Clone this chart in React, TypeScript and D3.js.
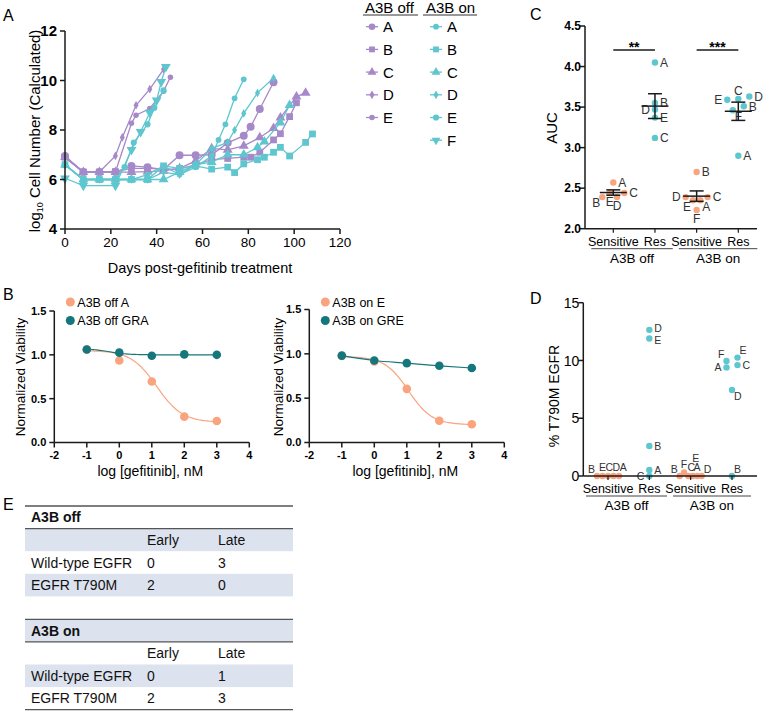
import React from 'react';
import * as d3 from 'd3';

const FONT = '"Liberation Sans", Arial, Helvetica, sans-serif';
const PURPLE = '#a689c9';
const CYAN = '#5ec6cf';
const ORANGE = '#f9a47f';
const TEAL = '#15777c';
const INK = '#1a1a1a';

// ---------- Panel A : growth curves [day, log10 cells] ----------
const offA: [number, number][] = [[0,6.95],[8,6.3],[15,6.3],[22,6.3],[29,6.55],[36,6.5],[43,6.4],[50,6.98],[57,6.98],[64,7.0],[71,7.48],[78,7.77],[81,8.13],[85,8.85],[91,9.93]];
const offB: [number, number][] = [[0,6.9],[8,6.3],[15,6.3],[22,6.32],[29,6.45],[36,6.45],[43,6.42],[50,6.42],[57,6.6],[64,6.8],[71,6.85],[78,6.9],[81,6.9],[85,7.1],[91,7.6],[94,7.85],[98,8.54],[101,9.1]];
const offC: [number, number][] = [[0,6.9],[8,6.3],[15,6.3],[22,6.3],[29,6.3],[36,6.32],[43,6.35],[50,6.45],[57,6.75],[64,7.26],[71,7.2],[78,7.36],[85,7.7],[91,8.07],[94,8.5],[101,9.35],[105,9.5]];
const offD: [number, number][] = [[0,6.9],[8,6.3],[15,6.3],[22,6.95],[25,7.7],[31,9.0],[37,9.65],[43,10.45]];
const offE: [number, number][] = [[0,6.9],[8,6.3],[15,6.3],[22,6.3],[29,8.27],[31,8.6],[37,8.87],[43,9.57],[46,10.13]];
const onA: [number, number][] = [[0,6.6],[8,6.0],[15,6.0],[22,6.0],[29,6.0],[36,6.2],[43,6.55],[50,6.2],[57,6.5],[64,6.95],[67,7.6],[70,8.23],[74,9.28],[78,10.05]];
const onB: [number, number][] = [[0,6.6],[8,6.0],[15,6.0],[22,6.0],[29,6.0],[36,6.0],[43,6.55],[50,6.45],[57,6.55],[64,6.42],[71,6.5],[74,6.28],[78,6.63],[84,6.8],[87,6.9],[91,7.1],[94,7.3],[98,6.95],[105,7.5],[108,7.84]];
const onC: [number, number][] = [[0,6.6],[8,6.0],[15,6.0],[22,6.0],[29,6.0],[36,6.0],[43,6.0],[50,6.3],[57,6.6],[64,6.7],[71,7.0],[78,7.0],[84,7.3],[87,7.53],[94,8.3],[98,9.0]];
const onD: [number, number][] = [[0,6.6],[8,6.0],[15,6.0],[22,6.0],[29,6.0],[36,6.0],[43,6.3],[50,6.2],[57,6.6],[64,7.26],[71,7.5],[74,8.0],[78,8.67],[84,9.5],[91,10.1]];
const onE: [number, number][] = [[0,6.6],[8,6.0],[15,6.0],[22,6.0],[26,6.5],[30,7.49],[36,8.23],[39,8.9],[43,9.6]];
const onF: [number, number][] = [[0,6.05],[8,5.75],[22,5.75],[29,7.2],[33,7.93],[37,8.7],[40,9.2],[42,9.95],[44,10.55]];
const legendLetters = ['A', 'B', 'C', 'D', 'E', 'F'];
const growthTicksX = [0, 20, 40, 60, 80, 100, 120];
const growthTicksY = [4, 6, 8, 10, 12];

// ---------- Panel B : dose response ----------
const doseX = [-1, 0, 1, 2, 3];
const viaOffA = [1.06, 0.935, 0.695, 0.295, 0.245];
const viaOffGRA = [1.06, 1.025, 0.99, 1.005, 1.0];
const viaOnE = [0.975, 0.915, 0.605, 0.245, 0.205];
const viaOnGRE = [0.98, 0.925, 0.895, 0.865, 0.84];
// 4PL fit parameters: top, bottom, logEC50, hill
const fitOffA = [1.05, 0.23, 1.15, 1.1];
const fitOffGRA = [1.07, 1.0, -0.3, 1.5];
const fitOnE = [0.97, 0.2, 1.05, 1.2];
const doseTicks = [-2, -1, 0, 1, 2, 3, 4];
const viaTicks = [0, 0.5, 1, 1.5];

// ---------- Panel C : AUC ----------
const catNames = ['Sensitive', 'Res', 'Sensitive', 'Res'];
const groupNames = ['A3B off', 'A3B on'];
const aucOffSensL = ['A', 'B', 'E', 'D', 'C'];
const aucOffSens = [2.57, 2.39, 2.44, 2.39, 2.44];
const aucOffSensSide = ['r', 'bl', 'b', 'b', 'r'];
const aucOffResL = ['A', 'B', 'D', 'E', 'C'];
const aucOffRes = [4.05, 3.55, 3.47, 3.37, 3.12];
const aucOffResSide = ['r', 'r', 'l', 'r', 'r'];
const aucOnSensL = ['B', 'D', 'E', 'A', 'C', 'F'];
const aucOnSens = [2.7, 2.39, 2.35, 2.35, 2.39, 2.23];
const aucOnSensSide = ['r', 'l', 'bl', 'br', 'r', 'b'];
const aucOnResL = ['E', 'C', 'D', 'F', 'B', 'A'];
const aucOnRes = [3.59, 3.6, 3.63, 3.46, 3.51, 2.9];
const aucOnResSide = ['l', 't', 'r', 'br', 'r', 'r'];
const aucTicks = [2.0, 2.5, 3.0, 3.5, 4.0, 4.5];
const sigLabels = ['**', '***'];

// ---------- Panel D : % T790M ----------
const tOffSensL = ['B', 'E', 'C', 'D', 'A'];
const tOffSens = [0, 0, 0, 0, 0];
const tOffSensSide = ['tl', 't', 'ta', 'tb', 'tc'];
const tOffResL = ['D', 'E', 'B', 'A', 'C'];
const tOffRes = [12.65, 11.9, 2.6, 0.52, 0];
const tOffResSide = ['ru', 'rd', 'r', 'r', 'l'];
const tOnSensL = ['B', 'F', 'C', 'A', 'E', 'D'];
const tOnSens = [0, 0.3, 0, 0, 0, 0];
const tOnSensSide = ['tl', 't', 'tb', 'tc', 'tt', 'tr'];
const tOnResL = ['F', 'A', 'E', 'C', 'D', 'B'];
const tOnRes = [9.95, 9.4, 10.25, 9.6, 7.45, 0];
const tOnResSide = ['tl', 'l', 'tr', 'r', 'br', 'tr'];
const tTicks = [0, 5, 10, 15];

// ---------- Panel E : table ----------
const tableCols = ['Early', 'Late'];
const tableOffTitle = 'A3B off';
const tableOffRows: [string, number, number][] = [['Wild-type EGFR', 0, 3], ['EGFR T790M', 2, 0]];
const tableOnTitle = 'A3B on';
const tableOnRows: [string, number, number][] = [['Wild-type EGFR', 0, 1], ['EGFR T790M', 2, 3]];

const SIDE: Record<string, [number, number, string]> = {
  r: [5, 0, 'start'], l: [-5, 0, 'end'], t: [0, -8.5, 'middle'], b: [0, 9, 'middle'],
  ru: [5, -1.5, 'start'], rd: [5, 1.5, 'start'],
  ta: [1.4, -8.5, 'middle'], tb: [2.8, -8.5, 'middle'], tc: [4.2, -8.5, 'middle'],
  tl: [-2, -7, 'end'], tr: [2, -7, 'start'], bl: [-2, 6, 'end'], br: [2, 6, 'start'], tt: [-1.5, -18, 'middle'],
};

function symPath(kind: string, size: number) {
  const map: Record<string, any> = {
    circle: d3.symbolCircle, square: d3.symbolSquare, triangle: d3.symbolTriangle,
    diamond: d3.symbolDiamond, tridown: d3.symbolTriangle,
  };
  return d3.symbol().type(map[kind]).size(size)() as string;
}

function swarm(vals: number[], y: (v: number) => number, cx: number, tol: number) {
  const idx = vals.map((_, i) => i).sort((a, b) => vals[b] - vals[a]);
  const bins: number[][] = [];
  let cur: number[] = [];
  let start = 0;
  for (const i of idx) {
    if (cur.length && Math.abs(y(vals[i]) - y(vals[start])) > tol) { bins.push(cur); cur = []; }
    if (!cur.length) start = i;
    cur.push(i);
  }
  if (cur.length) bins.push(cur);
  const xs: number[] = new Array(vals.length);
  for (const b of bins) {
    b.sort((a, c) => a - c);
    const n = b.length;
    const sp = n > 1 ? Math.min(11, 22 / (n - 1)) : 0;
    b.forEach((i, k) => { xs[i] = cx + (k - (n - 1) / 2) * sp; });
  }
  return xs;
}

const fourPL = (x: number, p: number[]) => p[1] + (p[0] - p[1]) / (1 + Math.pow(10, p[3] * (x - p[2])));

function PanelA() {
  const x = d3.scaleLinear().domain([0, 120]).range([65, 340]);
  const y = d3.scaleLinear().domain([4, 12]).range([229, 31]);
  const line = d3.line<[number, number]>().x(d => x(d[0])).y(d => y(d[1]));
  const series = [
    { pts: offA, color: PURPLE, sym: 'circle', size: 50 },
    { pts: offB, color: PURPLE, sym: 'square', size: 46 },
    { pts: offC, color: PURPLE, sym: 'triangle', size: 42 },
    { pts: offD, color: PURPLE, sym: 'diamond', size: 22 },
    { pts: offE, color: PURPLE, sym: 'circle', size: 24 },
    { pts: onA, color: CYAN, sym: 'circle', size: 26 },
    { pts: onB, color: CYAN, sym: 'square', size: 46 },
    { pts: onC, color: CYAN, sym: 'triangle', size: 42 },
    { pts: onD, color: CYAN, sym: 'diamond', size: 22 },
    { pts: onE, color: CYAN, sym: 'circle', size: 30 },
    { pts: onF, color: CYAN, sym: 'tridown', size: 42 },
  ];
  const offLeg = series.slice(0, 5);
  const onLeg = series.slice(5);
  const rowY = (i: number) => 26.7 + i * 22.7;
  return (
    <g>
      <text x={3} y={21} fontSize={16} fontFamily={FONT}>A</text>
      {series.map((s, si) => (
        <g key={si}>
          <path d={line(s.pts) as string} fill="none" stroke={s.color} strokeWidth={1.3} />
          {s.pts.map((p, i) => (
            <path key={i} d={symPath(s.sym, s.size)} fill={s.color}
              transform={`translate(${x(p[0])},${y(p[1])})${s.sym === 'tridown' ? ' rotate(180)' : ''}`} />
          ))}
        </g>
      ))}
      <line x1={65} x2={65} y1={31} y2={229} stroke={INK} strokeWidth={1.5} />
      <line x1={65} x2={340} y1={229} y2={229} stroke={INK} strokeWidth={1.5} />
      {growthTicksY.map(t => (
        <g key={t}>
          <line x1={60} x2={65} y1={y(t)} y2={y(t)} stroke={INK} strokeWidth={1.5} />
          <text x={57} y={y(t)} dy="0.36em" textAnchor="end" fontSize={15} fontWeight="bold" fontFamily={FONT}>{t}</text>
        </g>
      ))}
      {growthTicksX.map(t => (
        <g key={t}>
          <line x1={x(t)} x2={x(t)} y1={229} y2={234} stroke={INK} strokeWidth={1.5} />
          <text x={x(t)} y={247} textAnchor="middle" fontSize={13.5} fontFamily={FONT}>{t}</text>
        </g>
      ))}
      <text x={200} y={273} textAnchor="middle" fontSize={14.5} fontFamily={FONT}>Days post-gefitinib treatment</text>
      <text transform="translate(40,131) rotate(-90)" textAnchor="middle" fontSize={15} fontFamily={FONT}>
        log<tspan fontSize={9} dy={3}>10</tspan><tspan dy={-3}> Cell Number (Calculated)</tspan>
      </text>
      {/* legend */}
      <text x={365} y={12.5} fontSize={15} fontFamily={FONT}>{groupNames[0]}</text>
      <line x1={363} x2={418} y1={15} y2={15} stroke="#333" strokeWidth={1} />
      <text x={426} y={12.5} fontSize={15} fontFamily={FONT}>{groupNames[1]}</text>
      <line x1={423} x2={477} y1={15} y2={15} stroke="#333" strokeWidth={1} />
      {offLeg.map((s, i) => (
        <g key={'o' + i}>
          <line x1={366} x2={378} y1={rowY(i)} y2={rowY(i)} stroke={s.color} strokeWidth={1.3} />
          <path d={symPath(s.sym, Math.min(s.size, 34))} fill={s.color} transform={`translate(372,${rowY(i)})`} />
          <text x={383} y={rowY(i)} dy="0.36em" fontSize={15} fontFamily={FONT}>{legendLetters[i]}</text>
        </g>
      ))}
      {onLeg.map((s, i) => (
        <g key={'n' + i}>
          <line x1={430} x2={442} y1={rowY(i)} y2={rowY(i)} stroke={s.color} strokeWidth={1.3} />
          <path d={symPath(s.sym, Math.min(s.size, 34))} fill={s.color}
            transform={`translate(436,${rowY(i)})${s.sym === 'tridown' ? ' rotate(180)' : ''}`} />
          <text x={447} y={rowY(i)} dy="0.36em" fontSize={15} fontFamily={FONT}>{legendLetters[i]}</text>
        </g>
      ))}
    </g>
  );
}

function DosePanel({ x0, yTop, sens, res, fitSens, fitRes, sensName, resName, letter, yLabelX }:
  { x0: number; yTop: number; sens: number[]; res: number[]; fitSens: number[]; fitRes: number[] | null; sensName: string; resName: string; letter?: string; yLabelX: number }) {
  const x = d3.scaleLinear().domain([-2, 4]).range([x0, x0 + 195]);
  const y = d3.scaleLinear().domain([0, 1.5]).range([442.5, yTop]);
  const xs = d3.range(-1, 3.0001, 0.05);
  const lineFit = d3.line<number>().x(d => x(d)).y(d => y(fourPL(d, fitSens)));
  const resLine = fitRes
    ? (d3.line<number>().x(d => x(d)).y(d => y(fourPL(d, fitRes)))(xs) as string)
    : (d3.line<number>().x((_, i) => x(doseX[i])).y(d => y(d)).curve(d3.curveMonotoneX)(res) as string);
  return (
    <g>
      {letter && <text x={3} y={300} fontSize={16} fontFamily={FONT}>{letter}</text>}
      <path d={lineFit(xs) as string} fill="none" stroke={ORANGE} strokeWidth={1.2} />
      <path d={resLine} fill="none" stroke={TEAL} strokeWidth={1.2} />
      {sens.map((v, i) => <circle key={'s' + i} cx={x(doseX[i])} cy={y(v)} r={4.3} fill={ORANGE} />)}
      {res.map((v, i) => <circle key={'r' + i} cx={x(doseX[i])} cy={y(v)} r={4.3} fill={TEAL} />)}
      <line x1={x0} x2={x0} y1={yTop} y2={442.5} stroke={INK} strokeWidth={1.5} />
      <line x1={x0} x2={x0 + 195} y1={442.5} y2={442.5} stroke={INK} strokeWidth={1.5} />
      {viaTicks.map(t => (
        <g key={t}>
          <line x1={x0 - 5} x2={x0} y1={y(t)} y2={y(t)} stroke={INK} strokeWidth={1.5} />
          <text x={x0 - 8} y={y(t)} dy="0.36em" textAnchor="end" fontSize={11} fontWeight="bold" fontFamily={FONT}>{t.toFixed(1)}</text>
        </g>
      ))}
      {doseTicks.map(t => (
        <g key={t}>
          <line x1={x(t)} x2={x(t)} y1={442.5} y2={447.5} stroke={INK} strokeWidth={1.5} />
          <text x={x(t)} y={459} textAnchor="middle" fontSize={11} fontWeight="bold" fontFamily={FONT}>{t}</text>
        </g>
      ))}
      <text x={x0 + 96} y={476} textAnchor="middle" fontSize={14} fontFamily={FONT}>log [gefitinib], nM</text>
      <text transform={`translate(${yLabelX},377) rotate(-90)`} textAnchor="middle" fontSize={13.5} fontFamily={FONT}>Normalized Viability</text>
      <circle cx={x0 + 16} cy={302} r={4.5} fill={ORANGE} />
      <text x={x0 + 23} y={302} dy="0.36em" fontSize={12.5} fontFamily={FONT}>{sensName}</text>
      <circle cx={x0 + 16} cy={320.5} r={4.5} fill={TEAL} />
      <text x={x0 + 23} y={320.5} dy="0.36em" fontSize={12.5} fontFamily={FONT}>{resName}</text>
    </g>
  );
}

type Grp = { vals: number[]; labels: string[]; sides: string[]; color: string };

function CatPanel({ axisX, yTop, yBot, domain, ticks, tickBold, tickSize, fmt, catRange, groups, title, titleSize, titleY, letter, letterY, meanBars, sig, labelSize, yLabelX }:
  { axisX: number; yTop: number; yBot: number; domain: [number, number]; ticks: number[]; tickBold: boolean; tickSize: number; fmt: (v: number) => string;
    catRange: [number, number]; groups: Grp[]; title: string; titleSize: number; titleY: number; letter: string; letterY: number; meanBars: boolean; sig: boolean; labelSize: number; yLabelX: number }) {
  const y = d3.scaleLinear().domain(domain).range([yBot, yTop]);
  const cx = d3.scalePoint<number>().domain([0, 1, 2, 3]).range(catRange);
  const axisEnd = 757;
  const split = ((cx(1) as number) + (cx(2) as number)) / 2;
  const grpLines = [
    [(cx(0) as number) - 22, split - 3],
    [split + 3, (cx(3) as number) + 19],
  ];
  return (
    <g>
      <text x={530} y={letterY} fontSize={16} fontFamily={FONT}>{letter}</text>
      {groups.map((g, gi) => {
        const c = cx(gi) as number;
        const xs = swarm(g.vals, y, c, 5.5);
        const mean = d3.mean(g.vals) as number;
        const sem = (d3.deviation(g.vals) as number) / Math.sqrt(g.vals.length);
        return (
          <g key={gi}>
            {g.vals.map((v, i) => <circle key={i} cx={xs[i]} cy={y(v)} r={3.2} fill={g.color} />)}
            {g.vals.map((v, i) => {
              const s = SIDE[g.sides[i]];
              return <text key={'t' + i} x={xs[i] + s[0]} y={y(v) + s[1]} dy="0.36em" textAnchor={s[2] as any}
                fontSize={labelSize} fontFamily={FONT} fill="#333">{g.labels[i]}</text>;
            })}
            {meanBars && (
              <g stroke={INK} strokeWidth={1.5}>
                <line x1={c - 13.5} x2={c + 13.5} y1={y(mean)} y2={y(mean)} />
                <line x1={c} x2={c} y1={y(mean - sem)} y2={y(mean + sem)} />
                <line x1={c - 7} x2={c + 7} y1={y(mean - sem)} y2={y(mean - sem)} />
                <line x1={c - 7} x2={c + 7} y1={y(mean + sem)} y2={y(mean + sem)} />
              </g>
            )}
          </g>
        );
      })}
      {sig && [0, 1].map(k => {
        const a = cx(2 * k) as number, b = cx(2 * k + 1) as number;
        return (
          <g key={'sig' + k}>
            <line x1={a} x2={b} y1={50} y2={50} stroke={INK} strokeWidth={1.5} />
            <text x={(a + b) / 2} y={51.5} textAnchor="middle" fontSize={14} fontWeight="bold" fontFamily={FONT}>{sigLabels[k]}</text>
          </g>
        );
      })}
      <line x1={axisX} x2={axisX} y1={yTop} y2={yBot} stroke={INK} strokeWidth={1.5} />
      <line x1={axisX} x2={axisEnd} y1={yBot} y2={yBot} stroke={INK} strokeWidth={1.5} />
      {ticks.map(t => (
        <g key={t}>
          <line x1={axisX - 5} x2={axisX} y1={y(t)} y2={y(t)} stroke={INK} strokeWidth={1.5} />
          <text x={axisX - 4} y={y(t)} dy="0.36em" textAnchor="end" fontSize={tickSize} fontWeight={tickBold ? 'bold' : 'normal'} fontFamily={FONT}>{fmt(t)}</text>
        </g>
      ))}
      {catNames.map((n, i) => (
        <g key={i}>
          <line x1={cx(i) as number} x2={cx(i) as number} y1={yBot} y2={yBot + 4} stroke={INK} strokeWidth={1.2} />
          <text x={cx(i) as number} y={yBot + 17} textAnchor="middle" fontSize={12.5} fontFamily={FONT}>{n}</text>
        </g>
      ))}
      {grpLines.map((gl, i) => (
        <g key={'g' + i}>
          <line x1={gl[0]} x2={gl[1]} y1={yBot + 20} y2={yBot + 20} stroke="#444" strokeWidth={1} />
          <text x={(gl[0] + gl[1]) / 2} y={yBot + 34} textAnchor="middle" fontSize={13.5} fontFamily={FONT}>{groupNames[i]}</text>
        </g>
      ))}
      <text transform={`translate(${yLabelX},${titleY}) rotate(-90)`} textAnchor="middle" fontSize={titleSize} fontFamily={FONT}>{title}</text>
    </g>
  );
}

function Table({ top, title, rows, shadeFirst, bottomLine }: { top: number; title: string; rows: [string, number, number][]; shadeFirst: boolean; bottomLine: boolean }) {
  const h = 22.6;
  const x0 = 25, x1 = 293;
  const colX = [31, 147, 218];
  const all = [
    { cells: [title, '', ''], bold: true },
    { cells: ['', tableCols[0], tableCols[1]], bold: false },
    ...rows.map(r => ({ cells: [r[0], String(r[1]), String(r[2])], bold: false })),
  ];
  return (
    <g>
      {all.map((r, i) => {
        const shaded = shadeFirst ? i % 2 === 0 : i % 2 === 1;
        const yy = top + i * h;
        return (
          <g key={i}>
            {shaded && <rect x={x0} y={yy} width={x1 - x0} height={h} fill="#dce3ef" />}
            {r.cells.map((c, j) => c && (
              <text key={j} x={colX[j]} y={yy + h / 2} dy="0.36em" fontSize={14} fontWeight={r.bold ? 'bold' : 'normal'} fontFamily={FONT} fill="#111">{c}</text>
            ))}
          </g>
        );
      })}
      <line x1={x0} x2={x1} y1={top} y2={top} stroke="#555" strokeWidth={1.3} />
      <line x1={x0} x2={x1} y1={top + h} y2={top + h} stroke="#555" strokeWidth={1.3} />
      {bottomLine && <line x1={x0} x2={x1} y1={top + 4 * h} y2={top + 4 * h} stroke="#555" strokeWidth={1.3} />}
    </g>
  );
}

export default function App() {
  const cGroups: Grp[] = [
    { vals: aucOffSens, labels: aucOffSensL, sides: aucOffSensSide, color: ORANGE },
    { vals: aucOffRes, labels: aucOffResL, sides: aucOffResSide, color: CYAN },
    { vals: aucOnSens, labels: aucOnSensL, sides: aucOnSensSide, color: ORANGE },
    { vals: aucOnRes, labels: aucOnResL, sides: aucOnResSide, color: CYAN },
  ];
  const dGroups: Grp[] = [
    { vals: tOffSens, labels: tOffSensL, sides: tOffSensSide, color: ORANGE },
    { vals: tOffRes, labels: tOffResL, sides: tOffResSide, color: CYAN },
    { vals: tOnSens, labels: tOnSensL, sides: tOnSensSide, color: ORANGE },
    { vals: tOnRes, labels: tOnResL, sides: tOnResSide, color: CYAN },
  ];
  return (
    <svg width={768} height={712} style={{ position: 'absolute', left: 0, top: 0, background: '#fff' }}>
      <rect width={768} height={712} fill="#fff" />
      <PanelA />
      <DosePanel x0={54.3} yTop={311} sens={viaOffA} res={viaOffGRA} fitSens={fitOffA} fitRes={fitOffGRA} sensName="A3B off A" resName="A3B off GRA" letter="B" yLabelX={25} />
      <DosePanel x0={309.3} yTop={309.5} sens={viaOnE} res={viaOnGRE} fitSens={fitOnE} fitRes={null} sensName="A3B on E" resName="A3B on GRE" yLabelX={283} />
      <CatPanel axisX={585} yTop={26} yBot={228.7} domain={[2, 4.5]} ticks={aucTicks} tickBold tickSize={12} fmt={v => v.toFixed(1)}
        catRange={[613.3, 738.3]} groups={cGroups} title="AUC" titleSize={15} titleY={128} letter="C" letterY={20} meanBars sig labelSize={12} yLabelX={557} />
      <CatPanel axisX={583.3} yTop={302.7} yBot={476} domain={[0, 15]} ticks={tTicks} tickBold={false} tickSize={14} fmt={v => String(v)}
        catRange={[608, 732]} groups={dGroups} title="% T790M EGFR" titleSize={14} titleY={396} letter="D" letterY={304} meanBars={false} sig={false} labelSize={10.5} yLabelX={559} />
      <text x={3} y={510} fontSize={16} fontFamily={FONT}>E</text>
      <Table top={506} title={tableOffTitle} rows={tableOffRows} shadeFirst={false} bottomLine={false} />
      <Table top={619.3} title={tableOnTitle} rows={tableOnRows} shadeFirst bottomLine />
    </svg>
  );
}
